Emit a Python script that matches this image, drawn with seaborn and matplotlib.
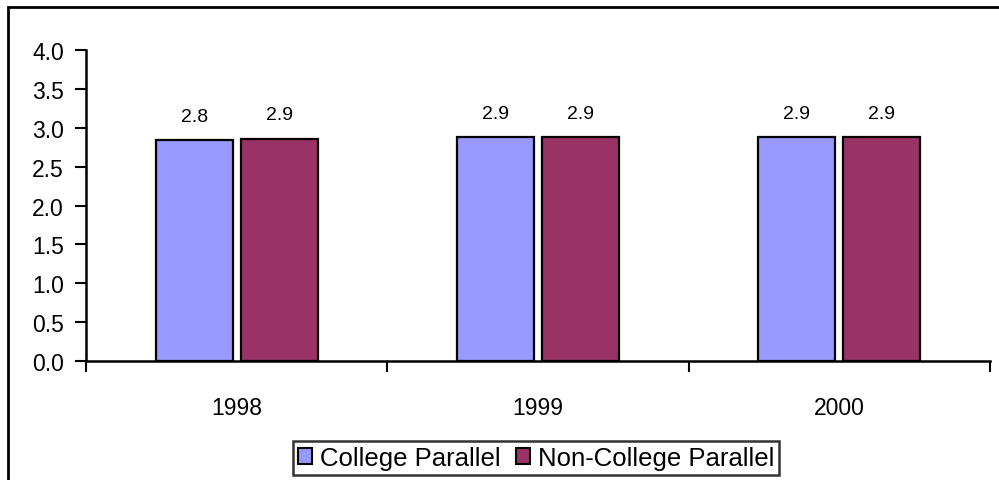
import pandas as pd
import seaborn as sns
import matplotlib.pyplot as plt
from matplotlib.patches import Rectangle

# Chart data
years = ['1998', '1999', '2000']
college = [2.84, 2.88, 2.88]
non_college = [2.86, 2.88, 2.88]
series_names = ['College Parallel', 'Non-College Parallel']
colors = ['#9999FF', '#993366']

df = pd.DataFrame({
    'year': years * 2,
    'value': college + non_college,
    'group': [series_names[0]] * 3 + [series_names[1]] * 3,
})

sns.set_style('white')
plt.rcParams['font.family'] = ['Liberation Sans', 'DejaVu Sans']
plt.rcParams['text.color'] = 'black'
plt.rcParams['xtick.color'] = 'black'
plt.rcParams['ytick.color'] = 'black'

fig = plt.figure(figsize=(9.99, 4.81), dpi=100)
ax = fig.add_axes([86 / 999, 119 / 481, 904 / 999, 311 / 481])

sns.barplot(data=df, x='year', y='value', hue='group', palette=colors, saturation=1,
            width=0.564, gap=0.094, edgecolor='black', linewidth=1.6,
            legend=False, ax=ax)

# data labels
for container in ax.containers:
    ax.bar_label(container, fmt='%.1f', padding=11, fontsize=14, color='black')

ax.set_xlim(-0.5, 2.5)
ax.set_ylim(0, 4)
ax.set_yticks([i * 0.5 for i in range(9)])
ax.set_yticklabels([f'{i * 0.5:.1f}' for i in range(9)])
ax.set_xlabel('')
ax.set_ylabel('')

# tick marks between categories, labels centred
ax.set_xticks([-0.5, 0.5, 1.5, 2.5], minor=True)
ax.tick_params(axis='x', which='major', length=0, pad=25, labelsize=16.5)
ax.tick_params(axis='x', which='minor', length=8, width=1.5, direction='out', bottom=True)
ax.tick_params(axis='y', length=8, width=1.5, direction='out', left=True, pad=8, labelsize=16.5)

for side in ['top', 'right']:
    ax.spines[side].set_visible(False)
for side in ['left', 'bottom']:
    ax.spines[side].set_linewidth(1.8)
    ax.spines[side].set_color('black')

# legend
handles = [Rectangle((0, 0), 1, 1, facecolor=c, edgecolor='black', linewidth=1.5) for c in colors]
leg = fig.legend(handles, series_names, loc='center', bbox_to_anchor=(536 / 999, 22 / 481),
                 ncol=2, fontsize=18.5, frameon=True, fancybox=False, handlelength=0.55,
                 handleheight=0.55, handletextpad=0.3, columnspacing=0.6, borderpad=0.2,
                 borderaxespad=0)
leg.get_frame().set_edgecolor('black')
leg.get_frame().set_linewidth(1.8)

# outer chart frame (clipped at right and bottom)
fig.patches.append(Rectangle((8 / 999, -0.1), 1.2, (473 / 481) + 0.1, transform=fig.transFigure,
                             fill=False, edgecolor='black', linewidth=2))

fig.savefig('out.png', dpi=100)
